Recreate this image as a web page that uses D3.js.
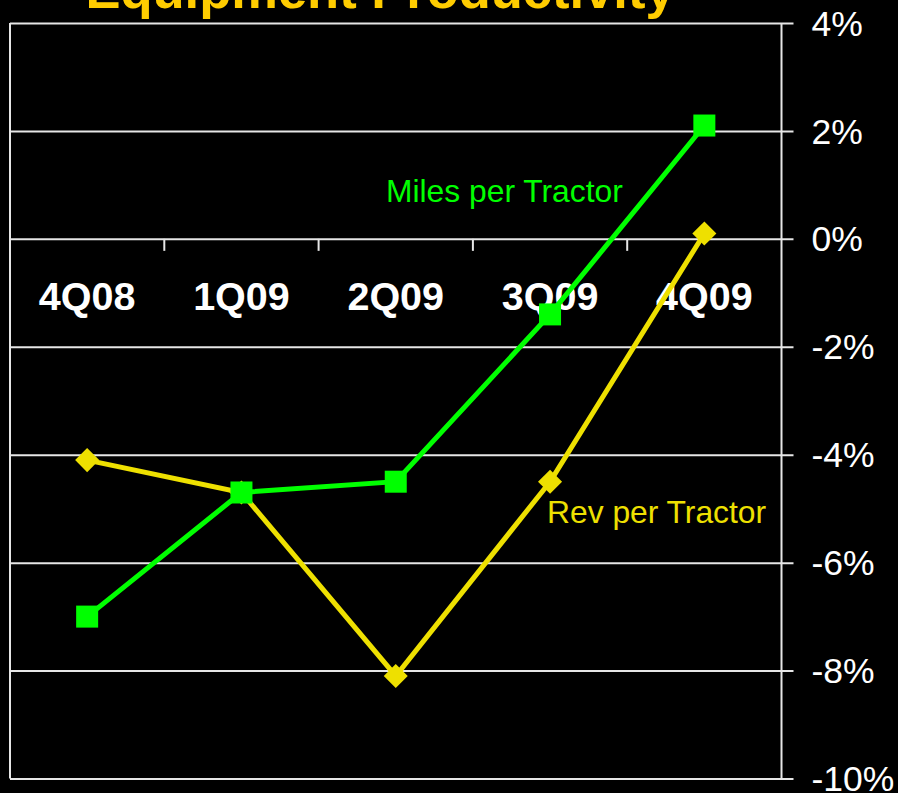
<!DOCTYPE html>
<html>
<head>
<meta charset="utf-8">
<script src="https://cdn.jsdelivr.net/npm/d3@7"></script>
<style>
  html, body { margin: 0; padding: 0; background: #000; }
  svg { display: block; }
  text { font-family: Arial, "Liberation Sans", sans-serif; }
</style>
</head>
<body>
<script>
// Data
const categories = ["4Q08", "1Q09", "2Q09", "3Q09", "4Q09"];
const milesPerTractor = [-7.0, -4.7, -4.5, -1.4, 2.1];
const revPerTractor = [-4.1, -4.7, -8.1, -4.5, 0.1];
const yTicks = [4, 2, 0, -2, -4, -6, -8, -10];

// Layout
const SVG_WIDTH = 898;
const SVG_HEIGHT = 793;
const PLOT = { left: 10, right: 781.5, top: 23, bottom: 778.5 };
const GREEN = "#00ff00";
const YELLOW = "#eee000";
const GRID = "#e6e6e6";

const svg = d3.select("body")
  .append("svg")
  .attr("width", SVG_WIDTH)
  .attr("height", SVG_HEIGHT);

// Scales
const x = d3.scaleBand()
  .domain(categories)
  .range([PLOT.left, PLOT.right])
  .padding(0);

const y = d3.scaleLinear()
  .domain([-10, 4])
  .range([PLOT.bottom, PLOT.top]);

const cx = (d) => x(d) + x.bandwidth() / 2;

// Gridlines + right-hand tick labels
const yAxis = svg.append("g")
  .attr("transform", `translate(${PLOT.left},0)`)
  .call(d3.axisRight(y)
    .tickValues(yTicks)
    .tickSize(PLOT.right - PLOT.left + 12)
    .tickPadding(18)
    .tickFormat((d) => d + "%"));

yAxis.select(".domain").remove();
yAxis.selectAll(".tick line")
  .attr("stroke", GRID)
  .attr("stroke-width", 2);
yAxis.selectAll(".tick text")
  .attr("fill", "#fff")
  .attr("font-size", 35.5)
  .attr("dy", "0.34em");

// Frame sides
svg.append("line")
  .attr("x1", PLOT.left).attr("x2", PLOT.left)
  .attr("y1", y(4)).attr("y2", y(-10))
  .attr("stroke", GRID).attr("stroke-width", 2);
svg.append("line")
  .attr("x1", PLOT.right).attr("x2", PLOT.right)
  .attr("y1", y(4)).attr("y2", y(-10))
  .attr("stroke", GRID).attr("stroke-width", 2);

// Category ticks on the 0% line
svg.selectAll(".cat-tick")
  .data(categories.slice(1))
  .enter()
  .append("line")
  .attr("class", "cat-tick")
  .attr("x1", (d) => x(d)).attr("x2", (d) => x(d))
  .attr("y1", y(0)).attr("y2", y(0) + 12)
  .attr("stroke", GRID)
  .attr("stroke-width", 2);

// Category labels
svg.selectAll(".cat-label")
  .data(categories)
  .enter()
  .append("text")
  .attr("class", "cat-label")
  .attr("x", cx)
  .attr("y", y(0) + 71)
  .attr("text-anchor", "middle")
  .attr("fill", "#fff")
  .attr("font-weight", "bold")
  .attr("font-size", 39.5)
  .text((d) => d);

// Lines
const line = d3.line()
  .x((d, i) => cx(categories[i]))
  .y((d) => y(d));

svg.append("path")
  .datum(revPerTractor)
  .attr("fill", "none")
  .attr("stroke", YELLOW)
  .attr("stroke-width", 5)
  .attr("d", line);

svg.selectAll(".rev-dot")
  .data(revPerTractor)
  .enter()
  .append("rect")
  .attr("class", "rev-dot")
  .attr("width", 17).attr("height", 17)
  .attr("x", -8.5).attr("y", -8.5)
  .attr("transform", (d, i) => `translate(${cx(categories[i])},${y(d)}) rotate(45)`)
  .attr("fill", YELLOW);

svg.append("path")
  .datum(milesPerTractor)
  .attr("fill", "none")
  .attr("stroke", GREEN)
  .attr("stroke-width", 5)
  .attr("d", line);

svg.selectAll(".miles-dot")
  .data(milesPerTractor)
  .enter()
  .append("rect")
  .attr("class", "miles-dot")
  .attr("width", 22).attr("height", 22)
  .attr("x", (d, i) => cx(categories[i]) - 11)
  .attr("y", (d) => y(d) - 11)
  .attr("fill", GREEN);

// Series labels
svg.append("text")
  .attr("x", 386)
  .attr("y", 202)
  .attr("fill", GREEN)
  .attr("font-size", 31.8)
  .text("Miles per Tractor");

svg.append("text")
  .attr("x", 547)
  .attr("y", 523)
  .attr("fill", YELLOW)
  .attr("font-size", 31.8)
  .text("Rev per Tractor");

// Title (cut off at the top, as in the original)
svg.append("text")
  .attr("x", 380)
  .attr("y", 8)
  .attr("text-anchor", "middle")
  .attr("fill", "#ffcc00")
  .attr("font-weight", "bold")
  .attr("font-size", 52.5)
  .text("Equipment Productivity");
</script>
</body>
</html>
